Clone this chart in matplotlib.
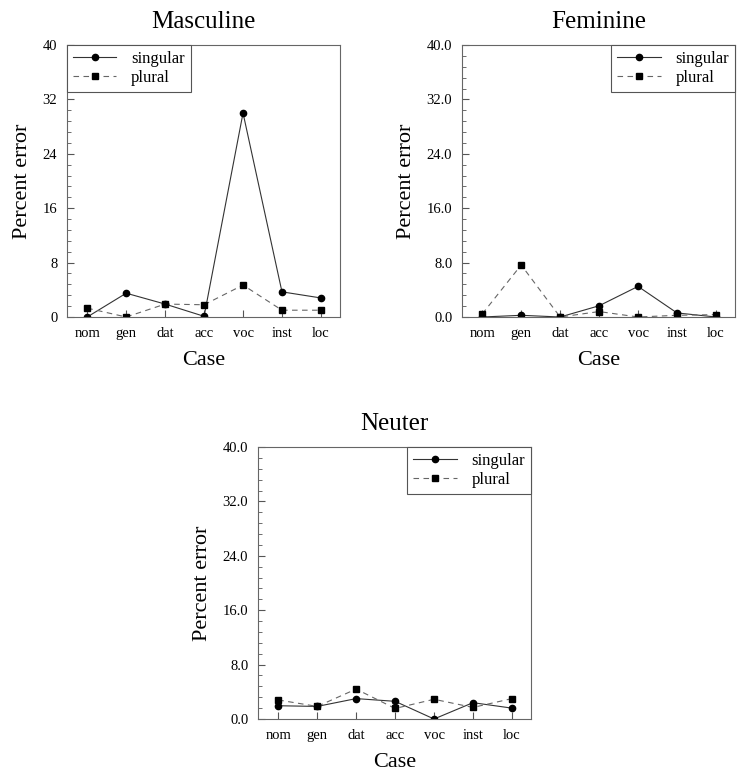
import numpy as np
import matplotlib.pyplot as plt
from matplotlib.ticker import MultipleLocator

plt.rcParams['font.family'] = ['Liberation Serif', 'DejaVu Serif']

cases = ['nom', 'gen', 'dat', 'acc', 'voc', 'inst', 'loc']

masc_sg = [0.0, 3.5, 1.9, 0.1, 30.0, 3.7, 2.8]
masc_pl = [1.3, 0.0, 1.9, 1.8, 4.7, 1.0, 1.0]

fem_sg = [0.0, 0.25, 0.0, 1.65, 4.5, 0.6, 0.0]
fem_pl = [0.45, 7.65, 0.0, 0.8, 0.0, 0.25, 0.35]

neut_sg = [1.95, 1.85, 3.0, 2.6, 0.0, 2.4, 1.6]
neut_pl = [2.8, 1.85, 4.4, 1.55, 2.9, 1.7, 3.0]

W, H = 748, 780
fig = plt.figure(figsize=(W / 100, H / 100), dpi=100)


def panel(rect, title, sg, pl, loc, fmt):
    l, t, r, b = rect
    ax = fig.add_axes([l / W, 1 - b / H, (r - l) / W, (b - t) / H])
    x = np.arange(len(cases))
    ax.plot(x, sg, '-', color='#333333', lw=0.8, marker='o', ms=4.5,
            mfc='black', mec='black', label='singular')
    ax.plot(x, pl, '--', color='#666666', lw=0.8, dashes=(5, 4), marker='s',
            ms=4.5, mfc='black', mec='black', label='plural')
    ax.set_xlim(-0.52, 6.49)
    ax.set_ylim(0, 40)
    ax.set_xticks(x)
    ax.set_xticklabels(cases)
    ax.yaxis.set_major_locator(MultipleLocator(8))
    ax.yaxis.set_minor_locator(MultipleLocator(1.6))
    ax.yaxis.set_major_formatter(fmt)
    ax.tick_params(axis='both', which='both', direction='in', labelsize=10.5,
                   colors='#555555', labelcolor='black')
    ax.tick_params(axis='both', which='major', length=5, pad=7)
    ax.tick_params(axis='y', which='minor', length=3)
    for s in ax.spines.values():
        s.set_color('#666666')
        s.set_linewidth(0.8)
    ax.set_title(title, fontsize=18, pad=12)
    ax.set_xlabel('Case', fontsize=16, labelpad=8)
    ax.set_ylabel('Percent error', fontsize=16, labelpad=8)
    leg = ax.legend(loc=loc, fontsize=12, fancybox=False, framealpha=1,
                    edgecolor='#555555', handlelength=2.6, handletextpad=0.9,
                    borderaxespad=0, labelspacing=0.2, borderpad=0.35)
    leg.get_frame().set_linewidth(0.8)
    return ax


panel((67, 45, 340, 317), 'Masculine', masc_sg, masc_pl, 'upper left', '{x:.0f}')
panel((462, 45, 735, 317), 'Feminine', fem_sg, fem_pl, 'upper right', '{x:.1f}')
panel((258, 447, 531, 719), 'Neuter', neut_sg, neut_pl, 'upper right', '{x:.1f}')

fig.savefig('out.png', dpi=100, facecolor='white')
